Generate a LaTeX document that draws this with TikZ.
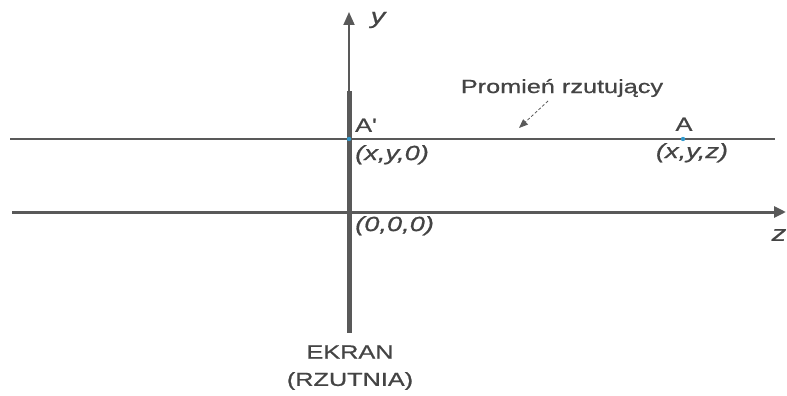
\documentclass[tikz,border=0pt]{standalone}
\usepackage{fontspec}
\setmainfont[FakeStretch=1.33, FakeBold=0.8]{Liberation Sans}
\usetikzlibrary{calc, arrows.meta}

\definecolor{szary}{HTML}{595959}
\definecolor{napis}{HTML}{444444}
\definecolor{punkt}{HTML}{3399CC}

\tikzset{
  etykieta/.style={text=napis, font=\fontsize{19}{21}\selectfont, inner sep=0pt},
  wsp/.style={etykieta, font=\fontsize{20.5}{22}\selectfont\itshape},
}

\begin{document}
\begin{tikzpicture}[x=1pt, y=-1pt]
  \useasboundingbox (0,0) rectangle (787,396);

  % punkty
  \coordinate (O) at (349,212);
  \coordinate (Ap) at (349,139);
  \coordinate (A) at (683,139);
  \coordinate (Lr) at (10,139);
  \coordinate (Pr) at (775,139);
  \coordinate (Lz) at (12,212);
  \coordinate (Pz) at (786,212);
  \coordinate (Ey) at (349,12);
  \coordinate (Eg) at (349,91);
  \coordinate (Ed) at (349,333);

  % promien rzutujacy
  \draw[szary, line width=1.8pt] (Lr) -- (Pr);

  % os z
  \draw[szary, line width=3pt, -{Triangle[length=12pt,width=11pt]}] (Lz) -- (Pz);

  % os y i ekran
  \draw[szary, line width=1.8pt, -{Triangle[length=13pt,width=11pt]}] (Eg) -- (Ey);
  \draw[szary, line width=5pt] (Eg) -- (Ed);

  \fill[punkt] (Ap) circle (2.2pt);
  \fill[punkt] (A) circle (2.2pt);

  % napisy
  \node[wsp, font=\fontsize{22}{24}\selectfont\itshape] (ly) at (378,20) {y};
  \node[wsp, font=\fontsize{22}{24}\selectfont\itshape] (lz) at (779,235) {z};
  \node[etykieta, anchor=south west] (lAp) at (355,132) {A\textquotesingle};
  \node[wsp, anchor=north west] (lAp2) at (355,145) {(x,y,0)};
  \node[wsp, anchor=north west] (lO) at (355,216) {(0,0,0)};
  \node[etykieta, anchor=south] (lA) at (684,131) {A};
  \node[wsp, anchor=north] (lA2) at (692,143) {(x,y,z)};
  \node[etykieta] (promien) at (562,88) {Promień rzutujący};
  \node[etykieta] (ekran) at (350,352) {EKRAN};
  \node[etykieta] (rzutnia) at (350,381) {(RZUTNIA)};

  % strzalka do promienia
  \coordinate (Ps) at (548,101);
  \coordinate (Pk) at (519,128);
  \draw[szary, line width=0.8pt, densely dashed, -{Triangle[length=9pt,width=7pt]}] (Ps) -- (Pk);
\end{tikzpicture}
\end{document}
